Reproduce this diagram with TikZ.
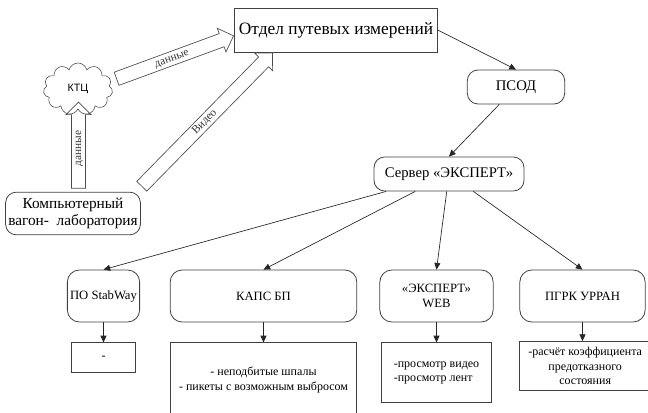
\documentclass[tikz,border=0pt]{standalone}
\usepackage{fontspec}
\setmainfont{Liberation Serif}
\setsansfont{Liberation Sans}
\usetikzlibrary{shapes.symbols,shapes.arrows,arrows.meta,positioning,calc}

% wide hollow arrow between two named points, text along it
\newcommand{\fatlink}[3]{%
  \path let \p1 = ($(#2)-(#1)$), \n1 = {atan2(\y1,\x1)}, \n2 = {veclen(\x1,\y1)} in
    node[fatarrow, minimum height=\n2, rotate=\n1] (#1-#2) at ($(#1)!0.5!(#2)$) {#3};}

\begin{document}
\begin{tikzpicture}[x=0.75pt, y=-0.75pt, font=\fontsize{9.5}{11}\selectfont,
    box/.style={draw=black!75, line width=0.6pt, align=center, inner sep=2pt},
    rbox/.style={box, rounded corners=8pt},
    note/.style={box, font=\fontsize{9}{11}\selectfont},
    link/.style={-{Triangle[length=5pt,width=4.5pt]}, black!85, line width=0.5pt},
    fatarrow/.style={single arrow, draw=black!70, line width=0.5pt,
      single arrow head extend=4.2pt, inner ysep=1.4pt, inner xsep=0pt,
      text height=5.6pt, text depth=1.6pt, font=\fontsize{8.5}{9}\selectfont, text=black!80},
    node distance=15pt]
  \useasboundingbox (0,0) rectangle (648,413);
  % Top part
  \node[box, minimum width=152pt, minimum height=33pt, font=\fontsize{13}{15}\selectfont]
    (otdel) at (336,30) {Отдел путевых измерений};
  \node[rbox, minimum width=73pt, minimum height=25.5pt, font=\fontsize{11}{13}\selectfont]
    (psod) at (516,87) {ПСОД};
  \node[rbox, minimum width=112.5pt, minimum height=25.5pt, font=\fontsize{11}{13}\selectfont]
    (srv) at (449,174) {Сервер «ЭКСПЕРТ»};
  \node[cloud, draw=black!75, cloud puffs=11, minimum width=52pt, minimum height=39pt,
    font=\sffamily\fontsize{8}{9}\selectfont] (ktc) at (78,89) {КТЦ};
  \node[rbox, minimum width=97.5pt, minimum height=32pt, font=\fontsize{11.5}{12.75}\selectfont]
    (wagon) at (73,213.5) {Компьютерный\\вагон-~~лаборатория};
  % Software row
  \foreach \nm/\x/\w/\txt in {stab/103.5/53/ПО StabWay, kaps/263.5/140/КАПС БП,
      web/436.5/85/{«ЭКСПЕРТ»\\WEB}, urran/582.5/94/ПГРК УРРАН}
    \node[rbox, rounded corners=9pt, minimum width=\w pt, minimum height=39pt] (\nm) at (\x,296) {\txt};
  % Results
  \node[note, below=15pt of stab, minimum width=48pt, minimum height=22.5pt] (stabres) {-};
  \node[note, below=15pt of kaps, minimum width=140pt, minimum height=56pt]
    (kapsres) {- неподбитые шпалы\\- пикеты с возможным выбросом};
  \node[note, below=15pt of web, minimum width=83pt, minimum height=45pt, align=left]
    (webres) {-просмотр видео\\-просмотр лент};
  \node[note, below=14pt of urran, xshift=2pt, minimum width=99pt, minimum height=37pt,
    font=\fontsize{9}{11}\selectfont] (urranres) {-расчёт коэффициента\\предотказного\\состояния};
  % Connectors
  \draw[link] (otdel.east) -- (psod.north);
  \draw[link] (psod) -- (srv.north);
  \foreach \nm in {stab,kaps,web,urran} {
    \draw[link] (srv) -- (\nm.north);
    \draw[link] (\nm.south) -- (\nm.south |- \nm res.north);
  }
  % Wide arrows
  \coordinate (wagontop) at ($(wagon.north)+(5.5,0)$);
  \coordinate (ktcbot) at ($(ktc.south)+(0.5,-4)$);
  \coordinate (ktcright) at ($(ktc.east)+(1,-9)$);
  \coordinate (otdelleft) at ($(otdel.west)+(-4,7)$);
  \coordinate (wagoncorner) at ($(wagon.north east)+(-1.5,-3)$);
  \coordinate (otdelbottom) at ($(otdel.south)+(-66,3)$);
  \fatlink{wagontop}{ktcbot}{данные}
  \fatlink{ktcright}{otdelleft}{данные}
  \fatlink{wagoncorner}{otdelbottom}{Видео}
\end{tikzpicture}
\end{document}
